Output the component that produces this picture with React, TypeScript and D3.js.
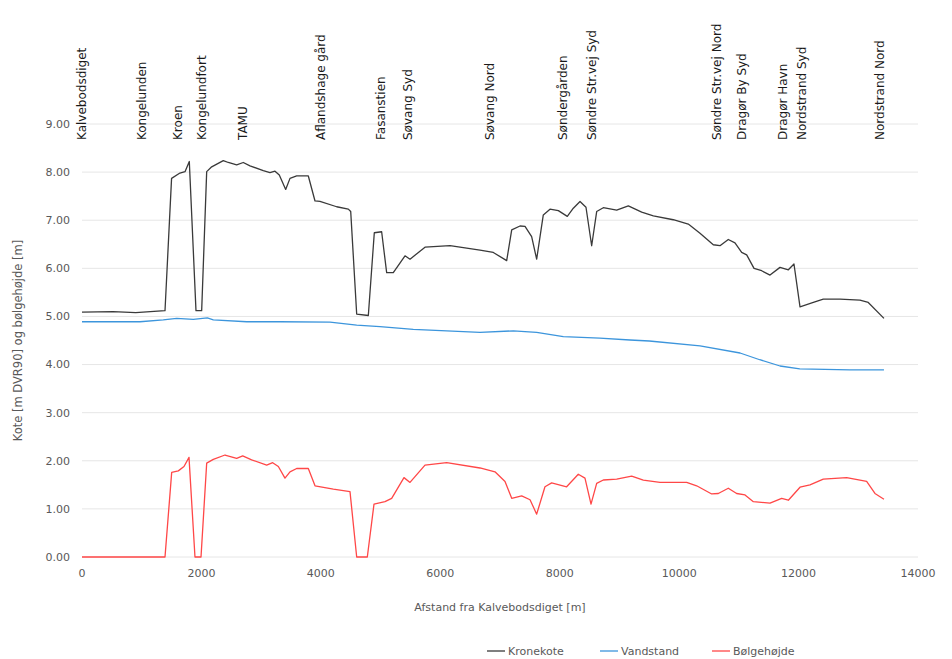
import React from 'react';
import * as d3 from 'd3';

// distance along the coast [m] and level [m DVR90]
const kronekote: [number, number][] = [
  [0, 5.09], [520, 5.10], [900, 5.08], [1390, 5.12], [1500, 7.87], [1640, 7.98], [1725, 8.01], [1797, 8.22],
  [1909, 5.12], [2004, 5.12], [2088, 8.01], [2172, 8.11], [2366, 8.24], [2450, 8.20], [2590, 8.15], [2701, 8.20],
  [2813, 8.13], [3036, 8.03], [3148, 7.99], [3232, 8.02], [3304, 7.94], [3411, 7.64], [3483, 7.87], [3595, 7.92],
  [3790, 7.92], [3902, 7.40], [3985, 7.39], [4265, 7.28], [4460, 7.23], [4500, 7.18], [4600, 5.05], [4795, 5.02],
  [4895, 6.74], [5018, 6.76], [5102, 5.91], [5213, 5.91], [5409, 6.26], [5493, 6.19], [5744, 6.44], [6163, 6.47],
  [6665, 6.38], [6888, 6.33], [7112, 6.16], [7196, 6.80], [7335, 6.88], [7419, 6.87], [7530, 6.66], [7614, 6.19],
  [7725, 7.11], [7837, 7.23], [7977, 7.20], [8127, 7.08], [8228, 7.25], [8340, 7.39], [8440, 7.27], [8535, 6.47],
  [8619, 7.18], [8730, 7.26], [8954, 7.21], [9149, 7.30], [9373, 7.17], [9568, 7.09], [9902, 7.01], [10153, 6.92],
  [10349, 6.73], [10572, 6.49], [10684, 6.47], [10823, 6.60], [10935, 6.53], [11047, 6.33], [11131, 6.28],
  [11254, 6.00], [11382, 5.95], [11522, 5.86], [11689, 6.02], [11829, 5.97], [11923, 6.09], [12024, 5.20],
  [12247, 5.29], [12414, 5.36], [12693, 5.36], [13028, 5.34], [13167, 5.29], [13430, 4.96],
];

const vandstand: [number, number][] = [
  [0, 4.89], [971, 4.89], [1361, 4.93], [1586, 4.96], [1864, 4.94], [2099, 4.97], [2199, 4.93], [2758, 4.89],
  [3316, 4.89], [4153, 4.88], [4600, 4.82], [4990, 4.79], [5548, 4.73], [6107, 4.70], [6665, 4.67], [7223, 4.70],
  [7614, 4.67], [8060, 4.58], [8670, 4.55], [9177, 4.51], [9500, 4.49], [10350, 4.39], [11020, 4.24],
  [11350, 4.10], [11690, 3.97], [12020, 3.91], [12860, 3.89], [13430, 3.89],
];

const boelgehoejde: [number, number][] = [
  [0, 0], [1390, 0], [1502, 1.76], [1613, 1.79], [1708, 1.88], [1792, 2.07], [1892, 0], [1993, 0], [2088, 1.95],
  [2199, 2.03], [2395, 2.12], [2590, 2.05], [2691, 2.10], [2841, 2.02], [3093, 1.91], [3193, 1.96], [3288, 1.88],
  [3399, 1.64], [3483, 1.77], [3595, 1.84], [3790, 1.84], [3902, 1.48], [4209, 1.41], [4488, 1.36], [4600, 0],
  [4778, 0], [4890, 1.10], [5074, 1.15], [5186, 1.22], [5392, 1.65], [5493, 1.55], [5744, 1.91], [6107, 1.96],
  [6665, 1.85], [6916, 1.77], [7084, 1.57], [7196, 1.22], [7363, 1.27], [7503, 1.19], [7614, 0.89], [7753, 1.46],
  [7865, 1.54], [8116, 1.46], [8311, 1.72], [8423, 1.64], [8524, 1.10], [8619, 1.53], [8730, 1.60], [8954, 1.62],
  [9205, 1.68], [9400, 1.60], [9679, 1.55], [10126, 1.55], [10293, 1.48], [10545, 1.31], [10656, 1.32],
  [10823, 1.43], [10963, 1.32], [11103, 1.29], [11243, 1.15], [11522, 1.12], [11717, 1.22], [11829, 1.18],
  [12024, 1.45], [12191, 1.50], [12414, 1.62], [12805, 1.65], [13140, 1.57], [13279, 1.32], [13430, 1.20],
];

const locationNames = [
  'Kalvebodsdiget', 'Kongelunden', 'Kroen', 'Kongelundfort', 'TAMU', 'Aflandshage gård', 'Fasanstien',
  'Søvang Syd', 'Søvang Nord', 'Søndergården', 'Søndre Str.vej Syd', 'Søndre Str.vej Nord', 'Dragør By Syd',
  'Dragør Havn', 'Nordstrand Syd', 'Nordstrand Nord',
];
const locationDist = [0, 1000, 1600, 2000, 2700, 4000, 5000, 5450, 6830, 8050, 8540, 10630, 11050, 11740, 12060, 13360];

const xTicks = [0, 2000, 4000, 6000, 8000, 10000, 12000, 14000];
const yTicks = [0, 1, 2, 3, 4, 5, 6, 7, 8, 9];

const series = [
  { name: 'Kronekote', data: kronekote, color: '#3a3a3a' },
  { name: 'Vandstand', data: vandstand, color: '#3c95dc' },
  { name: 'Bølgehøjde', data: boelgehoejde, color: '#ff4747' },
];

const width = 952;
const height = 659;
const margin = { top: 124, left: 82, right: 34, bottom: 102 };
const font = 'Verdana, "DejaVu Sans", sans-serif';

export default function App() {
  const x = d3.scaleLinear().domain([0, 14000]).range([margin.left, width - margin.right]);
  const y = d3.scaleLinear().domain([0, 9]).range([height - margin.bottom, margin.top]);
  const line = d3.line<[number, number]>().x(d => x(d[0])).y(d => y(d[1]));
  const legendX = [487, 600, 712];

  return (
    <svg width={width} height={height} style={{ position: 'absolute', left: 0, top: 0, background: '#fff' }} fontFamily={font}>
      {yTicks.map(t => (
        <g key={t}>
          <line x1={x(0)} x2={x(14000)} y1={y(t)} y2={y(t)} stroke="#e6e6e6" strokeWidth={1} />
          <text x={70} y={y(t)} dy="0.35em" textAnchor="end" fontSize={11} fill="#595959">{t.toFixed(2)}</text>
        </g>
      ))}
      {xTicks.map(t => (
        <text key={t} x={x(t)} y={y(0) + 16} dy="0.35em" textAnchor="middle" fontSize={11} fill="#595959">{t}</text>
      ))}
      {locationNames.map((n, i) => (
        <text key={n} transform={`translate(${x(locationDist[i])}, 140) rotate(-90)`} dy="0.35em" fontSize={12} fill="#1a1a1a">{n}</text>
      ))}
      {series.map(s => (
        <path key={s.name} d={line(s.data) || ''} fill="none" stroke={s.color} strokeWidth={1.3} strokeLinejoin="round" />
      ))}
      <text x={(x(0) + x(14000)) / 2} y={607} dy="0.35em" textAnchor="middle" fontSize={11} fill="#595959">Afstand fra Kalvebodsdiget [m]</text>
      <text transform={`translate(18, ${y(4.5)}) rotate(-90)`} dy="0.35em" textAnchor="middle" fontSize={11.5} fill="#595959">Kote [m DVR90] og bølgehøjde [m]</text>
      {series.map((s, i) => (
        <g key={s.name} transform={`translate(${legendX[i]}, 651)`}>
          <line x1={0} x2={18} y1={0} y2={0} stroke={s.color} strokeWidth={1.3} />
          <text x={21} y={0} dy="0.35em" fontSize={11} fill="#595959">{s.name}</text>
        </g>
      ))}
    </svg>
  );
}
